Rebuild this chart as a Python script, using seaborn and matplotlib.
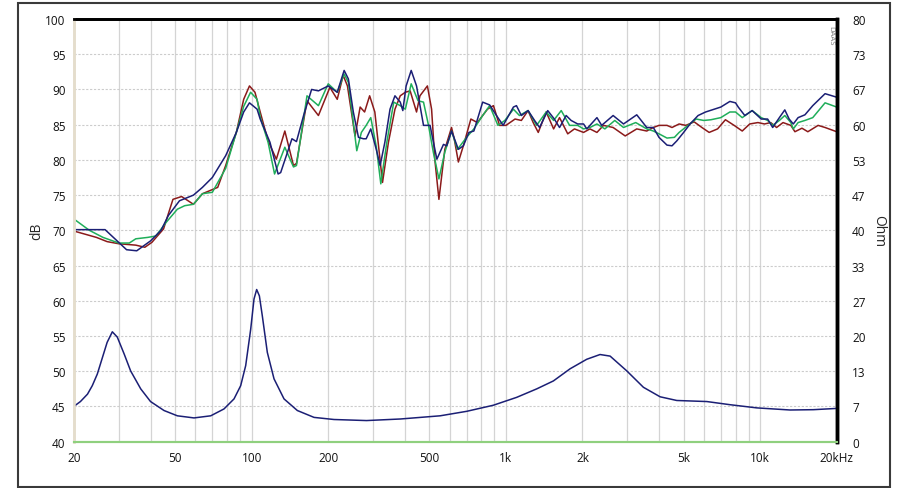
import numpy as np
import pandas as pd
import matplotlib
matplotlib.use('Agg')
import matplotlib.pyplot as plt
import seaborn as sns
from matplotlib.ticker import FixedLocator, LogLocator, NullFormatter
from matplotlib.patches import Rectangle

# SPL curves (dB), freq in Hz
red_freq = [20, 24.5, 27, 30, 35, 38, 40.5, 45, 49, 53, 59, 64, 73.5, 79, 87, 93, 98, 103, 108,
            116, 125, 135, 146, 150, 165, 183, 203, 217, 229, 238, 255, 267, 278, 291, 305, 327,
            345, 366, 384, 402, 420, 445, 459, 491, 510, 525, 545, 575, 611, 626, 650, 680, 728,
            772, 846, 893, 944, 1000, 1086, 1150, 1222, 1280, 1340, 1440, 1540, 1625, 1750, 1860,
            2020, 2140, 2280, 2420, 2640, 2945, 3270, 3580, 3800, 4000, 4300, 4500, 4800, 5100,
            5500, 5900, 6300, 6800, 7300, 7900, 8500, 9100, 9800, 10400, 11000, 11600, 12300,
            13200, 13700, 14600, 15400, 16900, 18000, 20000]
red_db = [69.9, 69.0, 68.4, 68.1, 67.9, 67.6, 68.3, 70.2, 74.4, 74.8, 73.7, 75.2, 76.1, 79.2, 83.9,
          88.6, 90.5, 89.6, 86.8, 82.7, 80.1, 84.1, 79.2, 79.5, 88.4, 86.3, 90.3, 88.6, 92.0, 90.5,
          83.4, 87.5, 86.8, 89.1, 86.8, 76.8, 82.5, 87.2, 89.1, 89.6, 89.8, 86.8, 89.1, 90.5, 87.2,
          80.1, 74.4, 81.5, 84.6, 83.0, 79.7, 82.0, 85.8, 85.3, 87.2, 87.7, 84.9, 84.9, 85.8, 85.6,
          87.0, 85.3, 83.9, 86.8, 84.4, 86.0, 83.7, 84.4, 83.9, 84.4, 83.9, 84.9, 84.6, 83.4, 84.4,
          84.1, 84.6, 84.9, 84.9, 84.6, 85.1, 84.9, 85.4, 84.6, 83.9, 84.4, 85.7, 84.9, 84.1, 85.1,
          85.3, 85.1, 85.3, 84.6, 85.3, 84.9, 84.0, 84.5, 84.0, 84.9, 84.6, 84.0]

green_freq = [20, 23, 26, 30, 33, 35, 39, 42, 46, 51, 54.5, 59, 64, 70, 79, 87, 93, 99, 105, 108,
              116, 123, 135, 146, 150, 165, 183, 200, 217, 231, 240, 259, 270, 282, 294, 309, 322,
              340, 362, 384, 402, 424, 451, 474, 496, 518, 545, 575, 611, 645, 700, 748, 810, 863,
              930, 990, 1070, 1130, 1222, 1320, 1440, 1540, 1650, 1780, 1915, 2020, 2140, 2280,
              2450, 2680, 2900, 3240, 3580, 3800, 4000, 4300, 4600, 4800, 5200, 5600, 6000, 6400,
              7000, 7600, 8000, 8500, 9300, 10100, 10700, 11200, 11900, 12500, 13200, 13500,
              14100, 15000, 16100, 18000, 20000]
green_db = [71.6, 70.0, 69.0, 68.2, 68.2, 68.8, 69.0, 69.2, 71.1, 73.0, 73.5, 73.7, 75.2, 75.4, 78.8,
            83.9, 87.6, 89.6, 88.6, 86.1, 82.5, 78.0, 81.8, 79.0, 79.2, 89.1, 87.7, 90.8, 89.6, 92.2,
            91.0, 81.3, 83.9, 84.9, 86.0, 81.9, 76.6, 82.5, 88.2, 87.7, 87.2, 90.8, 88.4, 88.2, 84.9,
            81.1, 77.3, 81.1, 84.1, 81.5, 83.2, 84.4, 86.3, 87.7, 84.9, 85.6, 87.2, 86.3, 87.0, 84.9,
            86.8, 85.6, 87.0, 84.9, 84.9, 84.4, 84.6, 85.1, 84.4, 85.6, 84.6, 85.3, 84.4, 84.1, 83.7,
            83.1, 83.2, 83.9, 84.9, 85.8, 85.6, 85.7, 86.0, 86.8, 86.8, 86.0, 87.0, 86.0, 85.6, 84.9,
            85.6, 86.3, 85.3, 84.4, 85.3, 85.6, 86.0, 88.1, 87.5]

navy_freq = [20, 26.5, 32.2, 35.3, 40, 44, 47, 52, 59, 64, 70, 79, 87, 93, 98, 105, 108, 118, 127,
             130, 144, 150, 160, 172, 183, 200, 217, 231, 240, 251, 263, 275, 282, 294, 309, 320,
             334, 350, 366, 384, 393, 405, 424, 445, 474, 503, 535, 568, 585, 611, 650, 680, 715,
             748, 810, 863, 918, 975, 1070, 1100, 1150, 1222, 1296, 1356, 1460, 1550, 1625, 1725,
             1805, 1915, 2020, 2080, 2280, 2380, 2640, 2900, 3270, 3580, 3800, 4000, 4300, 4500,
             4700, 5000, 5300, 5700, 6100, 6600, 7000, 7600, 8000, 8200, 8700, 9300, 10100, 10700,
             11200, 11900, 12500, 13000, 13500, 14100, 15000, 16100, 18000, 20000]
navy_db = [70.1, 70.1, 67.25, 67.1, 68.5, 70.0, 72.1, 74.2, 75.0, 76.1, 77.5, 80.6, 83.9, 86.8, 88.1,
           87.2, 85.8, 82.5, 78.0, 78.2, 83.0, 82.6, 86.3, 90.0, 89.8, 90.5, 89.6, 92.7, 91.5, 86.8,
           83.2, 83.0, 83.0, 84.4, 81.5, 79.2, 82.5, 87.2, 89.1, 88.2, 87.0, 90.5, 92.7, 90.5, 84.9,
           84.9, 80.1, 82.2, 82.0, 84.1, 81.5, 82.0, 83.9, 84.1, 88.2, 87.8, 86.3, 84.9, 87.5, 87.7,
           86.3, 87.0, 85.6, 84.6, 87.0, 85.8, 84.6, 86.3, 85.6, 85.1, 85.1, 84.4, 86.0, 84.9, 86.3,
           85.1, 86.4, 84.6, 84.6, 83.2, 82.1, 82.0, 82.7, 83.9, 85.1, 86.3, 86.8, 87.2, 87.5, 88.3,
           88.1, 87.5, 86.3, 87.0, 85.8, 85.8, 84.6, 86.0, 87.1, 85.8, 85.1, 86.0, 86.4, 87.7, 89.4,
           88.9]

# impedance (Ohm)
imp_freq = [20, 21.2, 22.6, 23.6, 24.7, 25.9, 27.0, 28.3, 29.6, 31.5, 33.4, 36.6, 40.0, 45.2, 51.0,
            59.3, 69.0, 77.8, 85.2, 90.5, 94.7, 99.1, 102.1, 104.6, 107.2, 110.1, 115.2, 122.4,
            134.0, 151.2, 175.9, 210.8, 283, 385, 551, 701, 892, 1103, 1322, 1537, 1788, 2079,
            2345, 2569, 2988, 3473, 4040, 4699, 6166, 7616, 9695, 13110, 16196, 20000]
imp_ohm = [6.7, 7.6, 9.0, 10.6, 12.8, 16.0, 18.8, 20.8, 19.8, 16.6, 13.4, 10.0, 7.6, 5.9, 4.9,
           4.5, 4.9, 6.2, 8.1, 10.6, 14.4, 21.3, 27.0, 28.8, 27.6, 23.8, 16.9, 11.9,
           8.1, 5.9, 4.6, 4.2, 4.0, 4.3, 4.9, 5.75, 6.9, 8.4, 10.0, 11.5, 13.8, 15.6,
           16.5, 16.2, 13.4, 10.3, 8.5, 7.8, 7.6, 7.0, 6.4, 6.0, 6.06, 6.3]

x_ticks = [20, 50, 100, 200, 500, 1000, 2000, 5000, 10000, 20000]
x_labels = ['20', '50', '100', '200', '500', '1k', '2k', '5k', '10k', '20kHz']
db_ticks = list(range(40, 101, 5))
ohm_ticks = list(np.linspace(0, 80, 13))
ohm_labels = [str(int(round(v))) for v in ohm_ticks]

sns.set_style('white')
plt.rcParams['font.family'] = ['Open Sans', 'DejaVu Sans']

fig = plt.figure(figsize=(8.97, 4.89), dpi=100)
ax = fig.add_axes([74 / 897, 1 - 442.7 / 489, (836.7 - 74) / 897, (442.7 - 20) / 489])
ax2 = ax.twinx()

# outer frame
fig.patches.append(Rectangle((18 / 897, 1 - 488 / 489), (890 - 18) / 897, (487 - 3) / 489,
                             transform=fig.transFigure, fill=False, edgecolor='#3a3a3a', lw=1.5))

sns.lineplot(x=red_freq, y=red_db, ax=ax, color='#8b1a1a', lw=1.1, sort=False)
sns.lineplot(x=green_freq, y=green_db, ax=ax, color='#1fae5a', lw=1.1, sort=False)
sns.lineplot(x=navy_freq, y=navy_db, ax=ax, color='#1b1f75', lw=1.1, sort=False)
sns.lineplot(x=imp_freq, y=imp_ohm, ax=ax2, color='#1b1f75', lw=1.1, sort=False)

ax.set_xscale('log')
ax.set_xlim(20, 20000)
ax.set_ylim(40, 100)
ax2.set_ylim(0, 80)

ax.xaxis.set_major_locator(FixedLocator(x_ticks))
ax.set_xticklabels(x_labels)
ax.xaxis.set_minor_locator(LogLocator(base=10, subs=np.arange(1, 10), numticks=100))
ax.xaxis.set_minor_formatter(NullFormatter())
ax.set_yticks(db_ticks)
ax2.set_yticks(ohm_ticks)
ax2.set_yticklabels(ohm_labels)

ax.grid(True, axis='x', which='both', color='#d4d4d4', lw=0.9, ls='-')
ax.grid(True, axis='y', which='major', color='#cccccc', lw=0.8, ls=(0, (2, 1.5)))
ax2.grid(False)

ax.tick_params(axis='x', length=0, pad=7, labelsize=8.5, colors='#111111')
ax.tick_params(axis='y', length=0, pad=6, labelsize=8.5, colors='#111111')
ax2.tick_params(axis='y', length=0, pad=11, labelsize=8.5, colors='#111111')

ax.set_ylabel('dB', fontsize=10, labelpad=1)
ax2.set_ylabel('Ohm', fontsize=10, rotation=270, labelpad=4, va='bottom')

for a in (ax, ax2):
    a.spines['top'].set_color('black')
    a.spines['top'].set_linewidth(2)
    a.spines['right'].set_color('black')
    a.spines['right'].set_linewidth(2.5)
    a.spines['left'].set_color('#e4ddcc')
    a.spines['left'].set_linewidth(1.8)
    a.spines['bottom'].set_color('#8fd07e')
    a.spines['bottom'].set_linewidth(1.5)

ax.text(0.992, 0.985, 'DAAS', transform=ax.transAxes, rotation=270, ha='center', va='top',
        fontsize=5.5, color='#777777')

fig.savefig('out.png', dpi=100)
